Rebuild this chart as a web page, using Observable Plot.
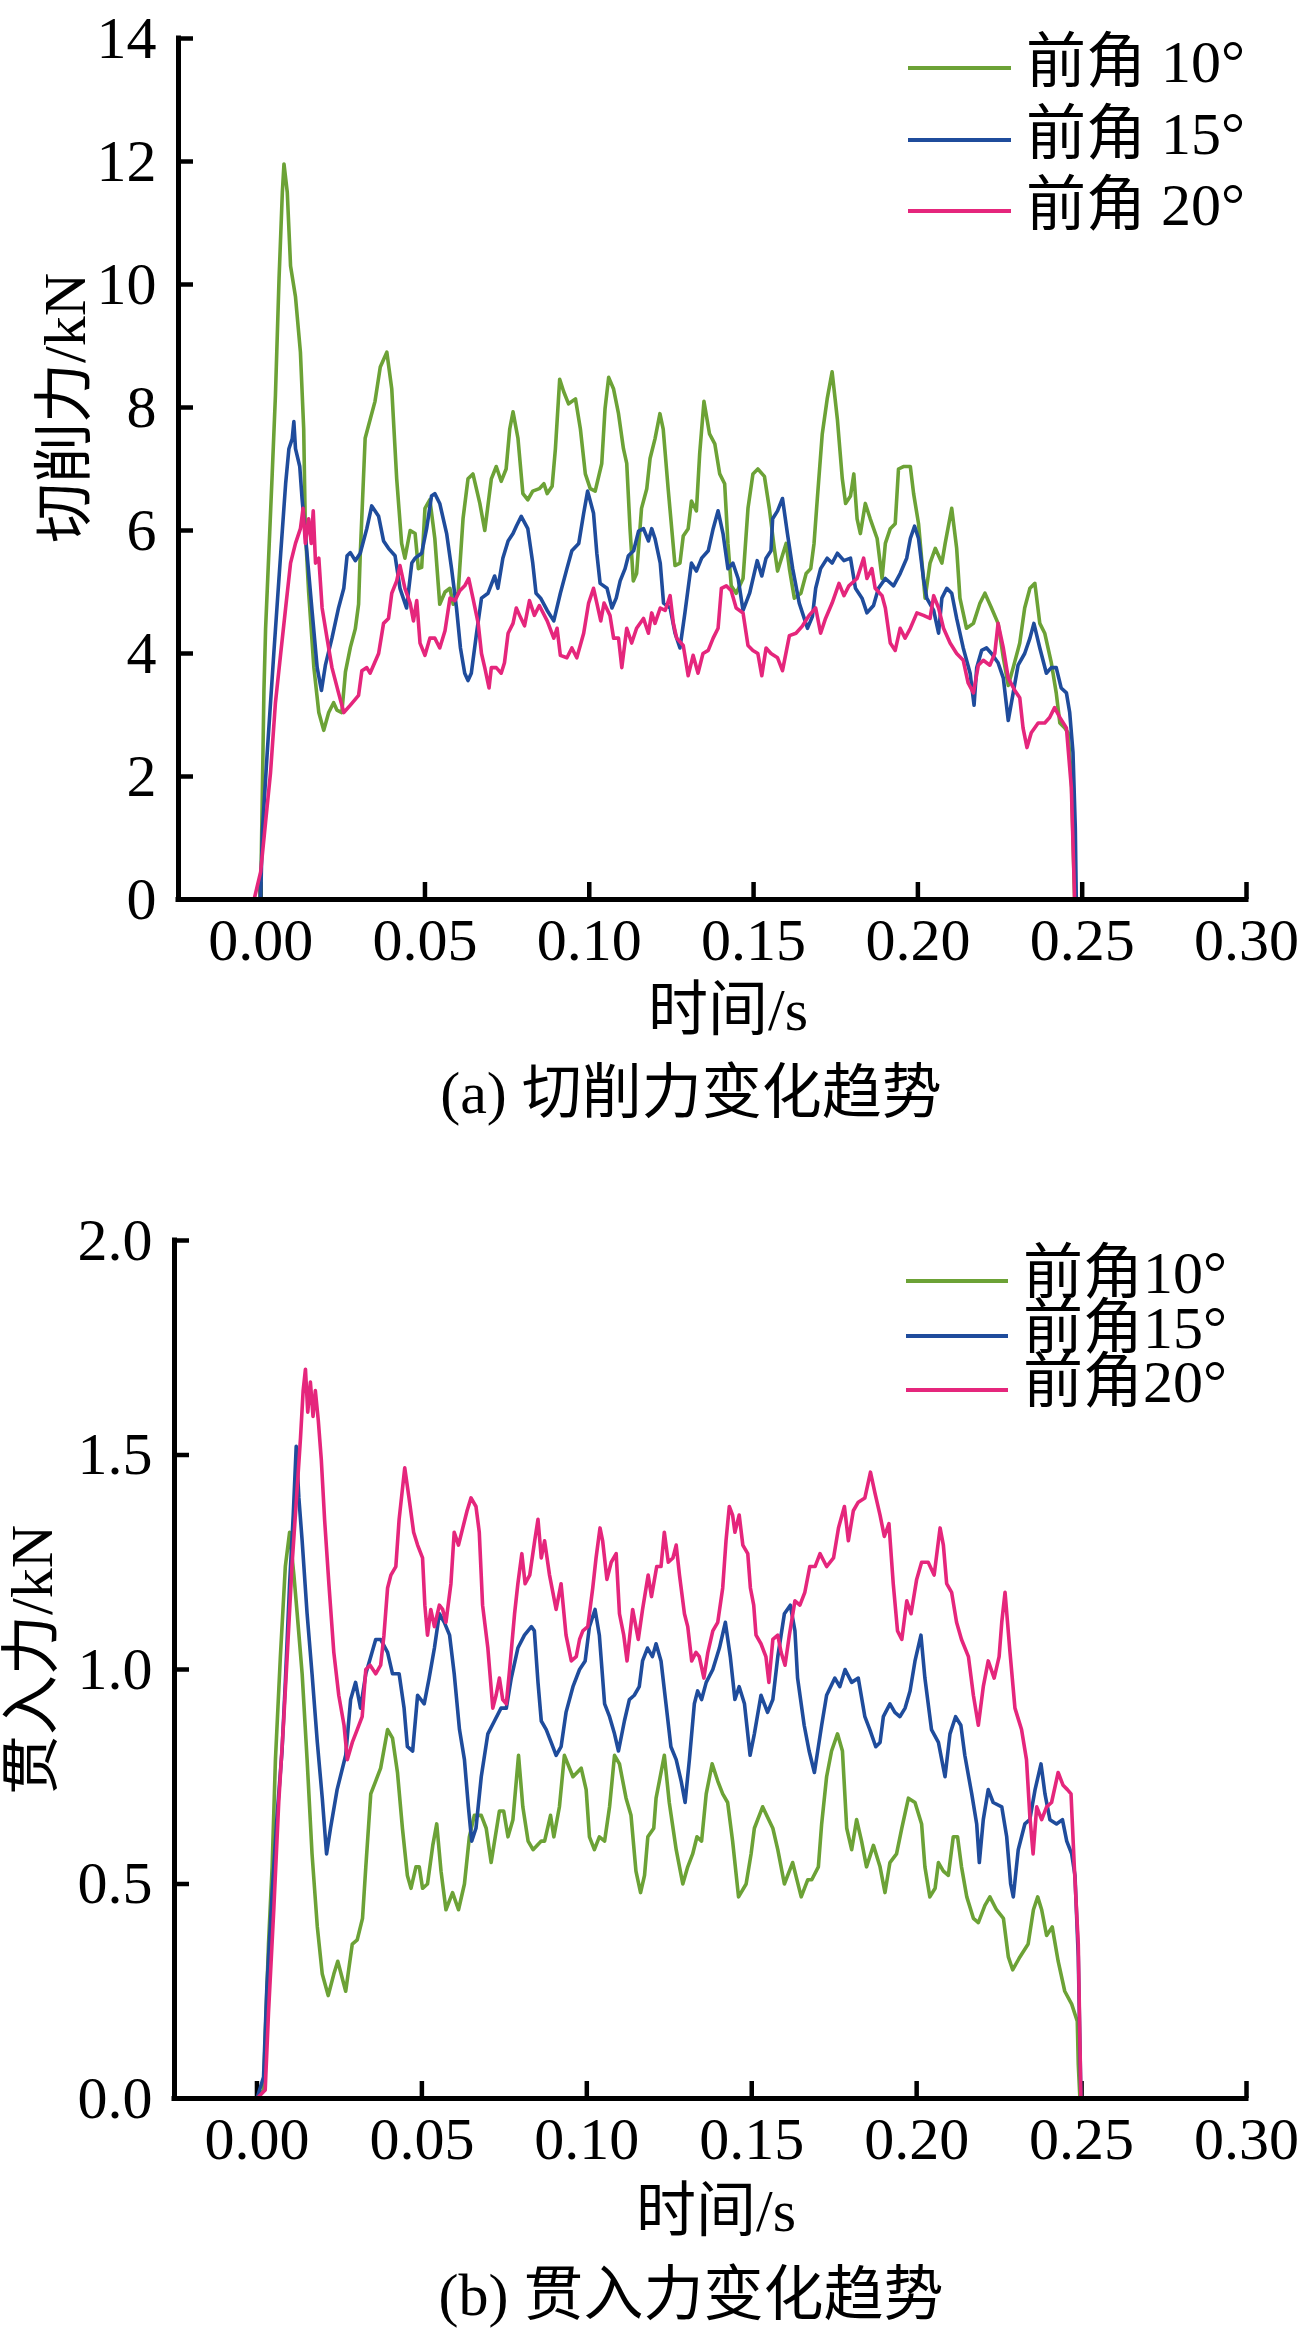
<!DOCTYPE html>
<html><head><meta charset="utf-8">
<script src="https://cdn.jsdelivr.net/npm/d3@7"></script>
<script src="https://cdn.jsdelivr.net/npm/@observablehq/plot@0.6"></script>
<style>
body{margin:0;background:#fff;}
#fig{position:relative;width:1309px;height:2339px;background:#fff;font-family:"Liberation Serif","Noto Sans CJK SC",serif;color:#000;overflow:hidden;}
#fig svg{position:absolute;left:0;}
.lbl{position:absolute;font-size:60px;line-height:1;white-space:nowrap;transform:translate(-50%,-50%);}
.rot{transform:translate(-50%,-50%) rotate(-90deg);}
.leg{position:absolute;height:4px;width:103px;}
.legt{position:absolute;font-size:60px;line-height:1;white-space:nowrap;transform:translateY(-50%);}
.tight{line-height:0.88;}
</style></head>
<body><div id="fig"></div>
<script>
// ---------- data ----------
const xTicks = [0, 0.05, 0.10, 0.15, 0.20, 0.25, 0.30];
const cutTicks = [0, 2, 4, 6, 8, 10, 12, 14];
const penTicks = [0, 0.5, 1.0, 1.5, 2.0];
const seriesNames = ["前角10°", "前角15°", "前角20°"];
const seriesColors = ["#6ca236", "#1f4c9c", "#e5267c"];

// (a) cutting force, kN  [time s, force]
const cut10 = [[0,0],[0.001,3.4],[0.0015,4.4],[0.0035,6.9],[0.0045,8.2],[0.0056,10.1],[0.0066,11.5],[0.0071,11.96],[0.0081,11.5],[0.0091,10.3],[0.0106,9.8],[0.0121,8.9],[0.0131,7.65],[0.0136,6.0],[0.0146,5.0],[0.0162,3.77],[0.0177,3.04],[0.0192,2.75],[0.0207,3.04],[0.0222,3.2],[0.0232,3.08],[0.0247,3.04],[0.0258,3.7],[0.0273,4.1],[0.0288,4.4],[0.0298,4.8],[0.0303,5.6],[0.0318,7.5],[0.0333,7.8],[0.0348,8.1],[0.0364,8.66],[0.0384,8.9],[0.0399,8.3],[0.0414,6.84],[0.0429,5.79],[0.0439,5.55],[0.0455,6.0],[0.047,5.95],[0.048,5.38],[0.049,5.4],[0.05,6.36],[0.0515,6.5],[0.053,5.87],[0.0545,4.8],[0.0561,5.0],[0.0576,5.06],[0.0586,4.8],[0.0601,5.0],[0.0616,6.2],[0.0631,6.84],[0.0646,6.92],[0.0667,6.44],[0.0682,6.0],[0.0702,6.84],[0.0717,7.04],[0.0732,6.8],[0.0747,7.0],[0.0758,7.65],[0.0768,7.93],[0.0783,7.5],[0.0798,6.6],[0.0813,6.5],[0.0828,6.64],[0.0848,6.68],[0.0862,6.76],[0.0872,6.6],[0.0887,6.72],[0.0897,7.33],[0.091,8.46],[0.0922,8.26],[0.0937,8.06],[0.0958,8.14],[0.0973,7.65],[0.0988,6.92],[0.1003,6.68],[0.1018,6.64],[0.1038,7.09],[0.1048,7.98],[0.1059,8.49],[0.1074,8.3],[0.1089,7.9],[0.1104,7.33],[0.1114,7.09],[0.1124,6.03],[0.1134,5.18],[0.1144,5.3],[0.1159,6.36],[0.1175,6.68],[0.1185,7.17],[0.12,7.49],[0.1215,7.9],[0.1225,7.65],[0.124,6.68],[0.1261,5.43],[0.1276,5.47],[0.1286,5.91],[0.1301,6.03],[0.1311,6.48],[0.1326,6.32],[0.1336,7.25],[0.1349,8.1],[0.1366,7.57],[0.1382,7.41],[0.1397,6.92],[0.1412,6.76],[0.1422,5.79],[0.1432,5.1],[0.1447,4.98],[0.1468,5.22],[0.1483,6.36],[0.1498,6.92],[0.1513,7.0],[0.1533,6.88],[0.1548,6.36],[0.1563,5.71],[0.1573,5.34],[0.1599,5.79],[0.1609,5.38],[0.1624,4.9],[0.1644,4.98],[0.166,5.3],[0.1674,5.38],[0.1684,5.79],[0.1694,6.52],[0.1709,7.57],[0.1724,8.14],[0.1739,8.58],[0.1755,7.81],[0.177,6.84],[0.178,6.44],[0.1795,6.56],[0.1805,6.92],[0.1815,6.19],[0.1825,5.95],[0.184,6.44],[0.1855,6.19],[0.1876,5.87],[0.1891,5.22],[0.1901,5.79],[0.1916,6.03],[0.1931,6.11],[0.1941,7.0],[0.1956,7.04],[0.1977,7.04],[0.1987,6.6],[0.2002,6.11],[0.2022,4.9],[0.2037,5.47],[0.2053,5.71],[0.2073,5.47],[0.2083,5.79],[0.2103,6.36],[0.2118,5.71],[0.2128,4.9],[0.2148,4.41],[0.2169,4.49],[0.2189,4.82],[0.2204,4.98],[0.2224,4.74],[0.2244,4.49],[0.226,3.93],[0.2275,3.48],[0.229,3.77],[0.231,4.17],[0.2325,4.74],[0.2341,5.06],[0.2356,5.14],[0.2371,4.49],[0.2386,4.33],[0.2406,3.85],[0.2421,3.36],[0.2432,2.87],[0.2447,2.79],[0.2457,2.71],[0.2467,1.98],[0.2477,0]];
const cut15 = [[0,0],[0.0005,1.09],[0.002,2.39],[0.004,4.0],[0.0061,5.63],[0.0076,6.76],[0.0086,7.33],[0.0096,7.49],[0.0101,7.77],[0.0106,7.33],[0.0119,7.04],[0.0126,6.52],[0.0141,5.63],[0.0157,4.66],[0.0172,3.77],[0.0185,3.4],[0.0197,3.81],[0.0217,4.25],[0.0237,4.74],[0.0253,5.06],[0.0263,5.59],[0.0273,5.64],[0.0288,5.51],[0.0303,5.63],[0.0323,6.03],[0.0338,6.4],[0.0359,6.23],[0.0374,5.83],[0.0389,5.71],[0.0409,5.59],[0.0424,5.06],[0.0444,4.74],[0.046,5.47],[0.047,5.55],[0.049,5.63],[0.0505,6.03],[0.052,6.56],[0.053,6.6],[0.0545,6.44],[0.0566,5.95],[0.0581,5.38],[0.0596,4.74],[0.0608,4.09],[0.0621,3.68],[0.0631,3.56],[0.0641,3.68],[0.0657,4.33],[0.0672,4.9],[0.0692,4.98],[0.0712,5.26],[0.0722,5.06],[0.0737,5.55],[0.0753,5.83],[0.0768,5.95],[0.0778,6.07],[0.0793,6.23],[0.0813,6.03],[0.0828,5.47],[0.0838,4.98],[0.0852,4.9],[0.0872,4.7],[0.0892,4.53],[0.0912,4.98],[0.0932,5.38],[0.0947,5.67],[0.0968,5.79],[0.0983,6.28],[0.0995,6.64],[0.1013,6.28],[0.1023,5.63],[0.1033,5.14],[0.1054,5.06],[0.1069,4.74],[0.1082,4.9],[0.1094,5.18],[0.1109,5.38],[0.1119,5.59],[0.1135,5.67],[0.115,5.99],[0.1165,6.03],[0.118,5.83],[0.119,6.03],[0.12,5.87],[0.1216,5.47],[0.1226,4.82],[0.1246,4.74],[0.1261,4.33],[0.1276,4.09],[0.1291,4.66],[0.1311,5.47],[0.1326,5.34],[0.1342,5.55],[0.1362,5.67],[0.1377,6.03],[0.1392,6.32],[0.1407,5.95],[0.1422,5.38],[0.1437,5.47],[0.1453,5.22],[0.1468,4.7],[0.1488,4.98],[0.1511,5.51],[0.1525,5.26],[0.1538,5.55],[0.1553,5.67],[0.1558,6.19],[0.1573,6.32],[0.1588,6.52],[0.1603,5.95],[0.1619,5.38],[0.1639,4.82],[0.1664,4.41],[0.1679,4.6],[0.1689,5.06],[0.1704,5.38],[0.1724,5.55],[0.1739,5.47],[0.1755,5.63],[0.1775,5.51],[0.1795,5.55],[0.181,5.06],[0.183,4.9],[0.1845,4.66],[0.1865,4.78],[0.188,5.06],[0.1901,5.22],[0.1926,5.1],[0.1946,5.3],[0.1966,5.55],[0.1977,5.87],[0.199,6.07],[0.2002,5.87],[0.2017,5.22],[0.2027,4.9],[0.2048,4.7],[0.2063,4.33],[0.2073,4.9],[0.2088,5.06],[0.2103,4.98],[0.2118,4.57],[0.2138,4.09],[0.2159,3.68],[0.2171,3.16],[0.2179,3.77],[0.2194,4.05],[0.2209,4.09],[0.2224,4.0],[0.2244,3.85],[0.226,3.6],[0.2275,2.91],[0.229,3.36],[0.2305,3.81],[0.2325,4.0],[0.2341,4.25],[0.2353,4.49],[0.2371,4.09],[0.2391,3.68],[0.2406,3.77],[0.2421,3.77],[0.2436,3.44],[0.2452,3.36],[0.2462,3.04],[0.2472,2.39],[0.2479,1.17],[0.2482,0]];
const cut20 = [[-0.002,0],[0,0.45],[0.0015,1.26],[0.003,2.06],[0.0045,3.2],[0.0061,4.0],[0.0076,4.74],[0.0091,5.47],[0.0106,5.79],[0.0121,6.03],[0.0129,6.36],[0.0136,5.79],[0.0146,6.19],[0.0154,5.79],[0.016,6.32],[0.0167,5.47],[0.0177,5.55],[0.0187,4.74],[0.0202,4.25],[0.0217,3.77],[0.0237,3.36],[0.0253,3.04],[0.0273,3.16],[0.0298,3.32],[0.0308,3.72],[0.0323,3.77],[0.0333,3.68],[0.0359,4.0],[0.0374,4.49],[0.0389,4.57],[0.0399,4.98],[0.0414,5.18],[0.0424,5.43],[0.0439,5.06],[0.0455,4.82],[0.0465,4.53],[0.0475,4.86],[0.0485,4.17],[0.05,3.97],[0.0515,4.25],[0.053,4.25],[0.0545,4.09],[0.0561,4.37],[0.0576,4.9],[0.0591,4.86],[0.0606,5.02],[0.0621,5.1],[0.0633,5.22],[0.0646,4.9],[0.0662,4.49],[0.0672,4.0],[0.0682,3.77],[0.0695,3.44],[0.0702,3.77],[0.0717,3.77],[0.0732,3.68],[0.0742,3.85],[0.0753,4.33],[0.0768,4.49],[0.0778,4.74],[0.0788,4.62],[0.0803,4.45],[0.0818,4.86],[0.0833,4.62],[0.0848,4.78],[0.0872,4.53],[0.0892,4.25],[0.0902,4.41],[0.0912,3.97],[0.0932,3.93],[0.0947,4.09],[0.0962,3.93],[0.0983,4.33],[0.0998,4.82],[0.1013,5.06],[0.1023,4.82],[0.1035,4.53],[0.1045,4.82],[0.1063,4.62],[0.1074,4.25],[0.1089,4.25],[0.1099,3.77],[0.1114,4.41],[0.1129,4.17],[0.1144,4.41],[0.1165,4.57],[0.118,4.33],[0.119,4.66],[0.12,4.49],[0.1216,4.74],[0.1231,4.7],[0.1246,4.94],[0.1256,4.49],[0.1266,4.25],[0.1286,4.13],[0.1301,3.64],[0.1316,3.97],[0.1331,3.68],[0.1346,4.0],[0.1362,4.05],[0.1377,4.25],[0.1392,4.41],[0.1402,5.06],[0.1417,5.1],[0.1432,5.02],[0.1447,4.74],[0.1468,4.66],[0.1483,4.13],[0.1498,4.05],[0.1513,4.0],[0.1525,3.64],[0.1538,4.09],[0.1553,4.0],[0.1573,3.93],[0.1588,3.72],[0.1609,4.29],[0.1629,4.33],[0.1649,4.45],[0.1669,4.62],[0.1689,4.74],[0.1704,4.33],[0.1719,4.57],[0.1739,4.82],[0.176,5.14],[0.1775,4.94],[0.179,5.1],[0.1815,5.22],[0.1835,5.55],[0.1845,5.22],[0.186,5.38],[0.187,5.06],[0.1891,4.94],[0.1901,4.74],[0.1916,4.17],[0.1931,4.05],[0.1946,4.41],[0.1961,4.25],[0.1977,4.41],[0.1997,4.66],[0.2017,4.62],[0.2037,4.57],[0.2048,4.94],[0.2063,4.74],[0.2078,4.41],[0.2098,4.17],[0.2118,4.0],[0.2138,3.89],[0.2153,3.52],[0.2169,3.36],[0.2184,3.81],[0.2199,3.89],[0.2219,3.81],[0.2234,4.0],[0.2244,4.49],[0.226,4.09],[0.2275,3.6],[0.2295,3.4],[0.231,3.28],[0.232,2.79],[0.2332,2.47],[0.2345,2.71],[0.2366,2.87],[0.2386,2.87],[0.2401,2.96],[0.2416,3.12],[0.2432,2.96],[0.2452,2.79],[0.2467,1.82],[0.2477,0]];

// (b) penetration force, kN
const pen10 = [[0,0],[0.002,0.02],[0.0025,0.14],[0.0035,0.36],[0.0046,0.54],[0.0056,0.79],[0.0071,1.03],[0.0086,1.24],[0.0099,1.32],[0.0112,1.22],[0.0122,1.13],[0.0137,0.99],[0.0152,0.79],[0.0167,0.57],[0.0183,0.4],[0.0198,0.29],[0.0216,0.24],[0.0233,0.29],[0.0245,0.32],[0.0269,0.25],[0.0289,0.36],[0.0304,0.37],[0.032,0.42],[0.033,0.54],[0.0345,0.71],[0.036,0.74],[0.0375,0.77],[0.0396,0.86],[0.0411,0.84],[0.0426,0.76],[0.0441,0.63],[0.0456,0.52],[0.0467,0.49],[0.0482,0.54],[0.0492,0.54],[0.0502,0.49],[0.0517,0.5],[0.0533,0.59],[0.0545,0.64],[0.0558,0.53],[0.0573,0.44],[0.0593,0.48],[0.0611,0.44],[0.0629,0.5],[0.0644,0.61],[0.0659,0.66],[0.068,0.66],[0.0695,0.63],[0.071,0.55],[0.0735,0.67],[0.0748,0.67],[0.0761,0.61],[0.0776,0.65],[0.0793,0.8],[0.0806,0.68],[0.0822,0.6],[0.0837,0.58],[0.0862,0.6],[0.0872,0.6],[0.089,0.66],[0.09,0.61],[0.0917,0.68],[0.0932,0.8],[0.0958,0.75],[0.0983,0.77],[0.0998,0.72],[0.1008,0.61],[0.1023,0.58],[0.1038,0.61],[0.1054,0.6],[0.1069,0.68],[0.1084,0.8],[0.1099,0.78],[0.1119,0.7],[0.1134,0.66],[0.1149,0.53],[0.1163,0.48],[0.1175,0.52],[0.1185,0.61],[0.1203,0.63],[0.121,0.7],[0.122,0.74],[0.1235,0.8],[0.125,0.69],[0.1271,0.58],[0.1291,0.5],[0.1306,0.54],[0.1321,0.57],[0.1334,0.61],[0.1348,0.6],[0.1362,0.71],[0.138,0.78],[0.1397,0.74],[0.1412,0.71],[0.1427,0.69],[0.1442,0.6],[0.146,0.47],[0.1483,0.5],[0.1498,0.57],[0.1508,0.63],[0.1533,0.68],[0.1564,0.63],[0.1579,0.58],[0.1599,0.5],[0.1624,0.55],[0.165,0.47],[0.167,0.51],[0.1682,0.51],[0.1702,0.54],[0.1712,0.64],[0.1727,0.75],[0.1742,0.81],[0.176,0.85],[0.1775,0.81],[0.1788,0.63],[0.1803,0.58],[0.1818,0.65],[0.1833,0.6],[0.1848,0.54],[0.1869,0.59],[0.1889,0.54],[0.1904,0.48],[0.1919,0.55],[0.1939,0.57],[0.1955,0.63],[0.1975,0.7],[0.1995,0.69],[0.2015,0.64],[0.2025,0.54],[0.204,0.47],[0.2056,0.49],[0.2066,0.55],[0.2081,0.53],[0.2096,0.52],[0.2111,0.61],[0.2124,0.61],[0.2136,0.54],[0.2152,0.47],[0.2172,0.42],[0.2187,0.41],[0.2207,0.45],[0.2222,0.47],[0.2242,0.44],[0.2263,0.42],[0.2278,0.33],[0.2291,0.3],[0.2313,0.33],[0.2338,0.36],[0.2354,0.44],[0.2367,0.47],[0.2379,0.44],[0.2394,0.38],[0.2411,0.4],[0.2429,0.32],[0.2449,0.25],[0.247,0.22],[0.2487,0.18],[0.249,0.08],[0.2495,0]];
const pen15 = [[0,0],[0.002,0.05],[0.003,0.26],[0.0046,0.48],[0.0061,0.66],[0.0076,0.81],[0.0086,0.97],[0.0099,1.2],[0.011,1.36],[0.0119,1.52],[0.0127,1.4],[0.0137,1.3],[0.0152,1.13],[0.0167,0.99],[0.0183,0.83],[0.0198,0.7],[0.0211,0.57],[0.0223,0.63],[0.0243,0.72],[0.0269,0.8],[0.0284,0.93],[0.0299,0.97],[0.0314,0.91],[0.033,0.99],[0.0345,1.03],[0.036,1.07],[0.0375,1.07],[0.0396,1.04],[0.0411,0.99],[0.0431,0.99],[0.0446,0.91],[0.0456,0.82],[0.0472,0.81],[0.0487,0.94],[0.0507,0.92],[0.0522,0.98],[0.0538,1.05],[0.0553,1.13],[0.0568,1.11],[0.0584,1.08],[0.0598,0.99],[0.0614,0.86],[0.0629,0.79],[0.0641,0.68],[0.0651,0.6],[0.0664,0.63],[0.068,0.75],[0.07,0.85],[0.072,0.88],[0.074,0.91],[0.0756,0.91],[0.0771,0.98],[0.0791,1.05],[0.0811,1.08],[0.0832,1.1],[0.0841,1.09],[0.0852,0.97],[0.0862,0.88],[0.0877,0.86],[0.0892,0.83],[0.0907,0.8],[0.0922,0.82],[0.0937,0.9],[0.0958,0.96],[0.0978,1.0],[0.0995,1.02],[0.1008,1.1],[0.1025,1.14],[0.1038,1.08],[0.1054,0.92],[0.1069,0.89],[0.1084,0.85],[0.1096,0.81],[0.1114,0.88],[0.1129,0.93],[0.1144,0.94],[0.1159,0.96],[0.1169,1.02],[0.1184,1.05],[0.1199,1.03],[0.121,1.06],[0.1225,1.02],[0.124,0.92],[0.1255,0.82],[0.1271,0.79],[0.1286,0.74],[0.1298,0.69],[0.1311,0.79],[0.1326,0.92],[0.1336,0.95],[0.1348,0.93],[0.1362,0.97],[0.1382,1.0],[0.1402,1.05],[0.142,1.11],[0.1435,1.03],[0.1449,0.93],[0.1462,0.96],[0.1478,0.92],[0.1495,0.8],[0.1508,0.85],[0.1528,0.94],[0.1548,0.9],[0.1564,0.93],[0.1579,1.03],[0.1599,1.13],[0.1617,1.15],[0.1631,1.09],[0.1639,0.98],[0.1659,0.87],[0.1674,0.81],[0.169,0.76],[0.1712,0.87],[0.1727,0.94],[0.1752,0.98],[0.1767,0.96],[0.1783,1.0],[0.1803,0.97],[0.1823,0.98],[0.1843,0.89],[0.1858,0.86],[0.1876,0.82],[0.1889,0.83],[0.1899,0.89],[0.1919,0.92],[0.1934,0.9],[0.1949,0.89],[0.1965,0.91],[0.198,0.95],[0.1995,1.02],[0.2013,1.08],[0.2025,0.98],[0.2045,0.86],[0.2066,0.83],[0.2086,0.75],[0.2101,0.85],[0.2118,0.89],[0.2134,0.87],[0.2146,0.8],[0.2167,0.71],[0.2182,0.64],[0.219,0.55],[0.2202,0.65],[0.2217,0.72],[0.2232,0.69],[0.2258,0.68],[0.2273,0.61],[0.2285,0.5],[0.2293,0.47],[0.2308,0.58],[0.2328,0.64],[0.2343,0.65],[0.2359,0.72],[0.2377,0.78],[0.2389,0.71],[0.2404,0.65],[0.2424,0.64],[0.2442,0.65],[0.2455,0.6],[0.247,0.57],[0.248,0.52],[0.249,0.33],[0.2498,0]];
const pen20 = [[0,0],[0.0025,0.02],[0.0035,0.2],[0.0051,0.44],[0.0066,0.69],[0.0081,0.88],[0.0093,1.05],[0.0106,1.24],[0.012,1.4],[0.0132,1.54],[0.014,1.65],[0.0147,1.7],[0.0154,1.6],[0.0162,1.67],[0.017,1.59],[0.0177,1.65],[0.0186,1.58],[0.0195,1.49],[0.0205,1.35],[0.0218,1.2],[0.0233,1.04],[0.0248,0.94],[0.0264,0.87],[0.0274,0.79],[0.0289,0.83],[0.0304,0.86],[0.0319,0.89],[0.033,1.0],[0.0343,1.01],[0.036,0.99],[0.0375,1.01],[0.0385,1.08],[0.0396,1.19],[0.0406,1.22],[0.0421,1.24],[0.0431,1.35],[0.0448,1.47],[0.0461,1.4],[0.0475,1.32],[0.0487,1.29],[0.0502,1.26],[0.0509,1.15],[0.0517,1.08],[0.0527,1.14],[0.0538,1.1],[0.0553,1.15],[0.0563,1.14],[0.0573,1.11],[0.0588,1.2],[0.0598,1.32],[0.0611,1.29],[0.0624,1.33],[0.0637,1.37],[0.0649,1.4],[0.0664,1.38],[0.0674,1.32],[0.0684,1.15],[0.07,1.05],[0.0715,0.91],[0.0725,0.94],[0.0735,0.98],[0.0745,0.93],[0.0756,0.92],[0.0766,1.0],[0.0781,1.13],[0.0791,1.2],[0.0803,1.27],[0.0813,1.2],[0.0827,1.22],[0.0842,1.3],[0.0852,1.35],[0.0862,1.26],[0.0872,1.3],[0.0887,1.22],[0.0907,1.14],[0.0922,1.2],[0.0937,1.08],[0.0953,1.02],[0.0968,1.03],[0.0978,1.07],[0.0988,1.09],[0.1003,1.1],[0.1018,1.19],[0.1028,1.26],[0.104,1.33],[0.1048,1.3],[0.1061,1.21],[0.1074,1.25],[0.1089,1.27],[0.1099,1.13],[0.1112,1.08],[0.1122,1.02],[0.1139,1.14],[0.1156,1.07],[0.1169,1.14],[0.1186,1.22],[0.1196,1.17],[0.1212,1.24],[0.1225,1.24],[0.1235,1.32],[0.1247,1.25],[0.1261,1.26],[0.1271,1.29],[0.1281,1.22],[0.1296,1.13],[0.1306,1.1],[0.1318,1.02],[0.1331,1.04],[0.1341,1.03],[0.1355,0.98],[0.1367,1.04],[0.1382,1.09],[0.1397,1.11],[0.1412,1.19],[0.1422,1.3],[0.1432,1.38],[0.1442,1.36],[0.1449,1.32],[0.1462,1.36],[0.1473,1.29],[0.1488,1.27],[0.1496,1.19],[0.1506,1.15],[0.1513,1.08],[0.1528,1.06],[0.1543,1.03],[0.1552,0.97],[0.1564,1.07],[0.1579,1.08],[0.1589,1.04],[0.1601,1.01],[0.1614,1.08],[0.1631,1.16],[0.1646,1.15],[0.1661,1.18],[0.1676,1.24],[0.1692,1.24],[0.1707,1.27],[0.1727,1.24],[0.1748,1.26],[0.1763,1.33],[0.1781,1.38],[0.1793,1.3],[0.1808,1.37],[0.1823,1.39],[0.1843,1.4],[0.186,1.46],[0.1874,1.41],[0.1889,1.36],[0.1902,1.31],[0.1916,1.34],[0.1929,1.2],[0.1942,1.09],[0.1955,1.07],[0.197,1.16],[0.1983,1.13],[0.2,1.21],[0.2015,1.25],[0.2035,1.25],[0.2053,1.22],[0.2071,1.33],[0.2081,1.29],[0.2091,1.2],[0.2106,1.18],[0.2121,1.11],[0.2136,1.07],[0.2157,1.03],[0.2172,0.94],[0.2187,0.87],[0.2202,0.96],[0.2217,1.02],[0.2235,0.98],[0.225,1.03],[0.2258,1.11],[0.2268,1.18],[0.2283,1.04],[0.2298,0.91],[0.2318,0.86],[0.2333,0.79],[0.2343,0.66],[0.2353,0.57],[0.2364,0.68],[0.2379,0.65],[0.2394,0.68],[0.2409,0.69],[0.2429,0.76],[0.2444,0.73],[0.2457,0.72],[0.2468,0.71],[0.2478,0.54],[0.249,0.36],[0.2498,0]];

// ---------- drawing ----------
(function () {
const fig = document.getElementById("fig");
const X0 = -0.025, X1 = 0.30;
const W = 1309, MR = 63, XTICK = 17, YTICK = 15;

function makeChart({series, yDomain, yTicks, yFmt, marginLeft, marginTop, marginBottom, height}) {
  const frameH = height - marginTop - marginBottom;
  const frameW = W - marginLeft - MR;
  const marks = [
    // tick labels
    Plot.axisX({ticks: xTicks, tickFormat: d3.format(".2f"), tickSize: 0, tickPadding: 18, label: null}),
    Plot.axisY({ticks: yTicks, tickFormat: yFmt, tickSize: 0, tickPadding: 22, label: null}),
    // inward tick marks (frame-spanning rules inset down to the tick length)
    Plot.ruleX(xTicks, {x: d => d, insetTop: frameH - XTICK, stroke: "#000", strokeWidth: 4.5}),
    Plot.ruleY(yTicks, {y: d => d, insetRight: frameW - YTICK, stroke: "#000", strokeWidth: 4.5})
  ];
  series.forEach((s, i) => {
    marks.push(Plot.line(s, {x: d => d[0], y: d => d[1], stroke: seriesColors[i], strokeWidth: 3.6, strokeLinejoin: "round"}));
  });
  marks.push(Plot.ruleY([yDomain[0]], {stroke: "#000", strokeWidth: 5, strokeLinecap: "square"}));
  marks.push(Plot.ruleX([X0], {stroke: "#000", strokeWidth: 5, strokeLinecap: "square"}));
  return Plot.plot({
    width: W, height, marginLeft, marginRight: MR, marginTop, marginBottom,
    x: {domain: [X0, X1]},
    y: {domain: yDomain},
    style: {fontFamily: '"Liberation Serif", serif', fontSize: "60px", color: "#000", background: "transparent", overflow: "visible"},
    marks
  });
}

const chartA = makeChart({series: [cut10, cut15, cut20], yDomain: [0, 14], yTicks: cutTicks, yFmt: d3.format("d"),
  marginLeft: 178, marginTop: 38, marginBottom: 101, height: 1000});
chartA.style.top = "0px";
fig.appendChild(chartA);

const chartB = makeChart({series: [pen10, pen15, pen20], yDomain: [0, 2], yTicks: penTicks, yFmt: d3.format(".1f"),
  marginLeft: 174, marginTop: 100, marginBottom: 102, height: 1060});
chartB.style.top = "1140px";
fig.appendChild(chartB);

function label(text, x, y, cls = "") {
  const d = document.createElement("div");
  d.className = "lbl " + cls;
  d.textContent = text;
  d.style.left = x + "px"; d.style.top = y + "px";
  fig.appendChild(d);
}
label("切削力/kN", 65, 408, "rot");
label("时间/s", 728, 1010);
label("(a) 切削力变化趋势", 691, 1093);
label("贯入力/kN", 32, 1660, "rot");
label("时间/s", 716, 2211);
label("(b) 贯入力变化趋势", 691, 2295);

function legend(items, x0, x1, ys, tx, textOffset, cls) {
  items.forEach((name, i) => {
    const ln = document.createElement("div");
    ln.className = "leg";
    ln.style.left = x0 + "px"; ln.style.width = (x1 - x0) + "px";
    ln.style.top = (ys[i] - 2) + "px";
    ln.style.background = seriesColors[i];
    fig.appendChild(ln);
    const t = document.createElement("div");
    t.className = "legt " + cls;
    t.textContent = name;
    t.style.left = tx + "px"; t.style.top = (ys[i] + textOffset) + "px";
    fig.appendChild(t);
  });
}
legend(["前角 10°", "前角 15°", "前角 20°"], 908, 1011, [68, 140, 211], 1026, -6, "");
legend(seriesNames, 906, 1008, [1281, 1336, 1390], 1023, -8, "tight");
})();
</script>
</body></html>
